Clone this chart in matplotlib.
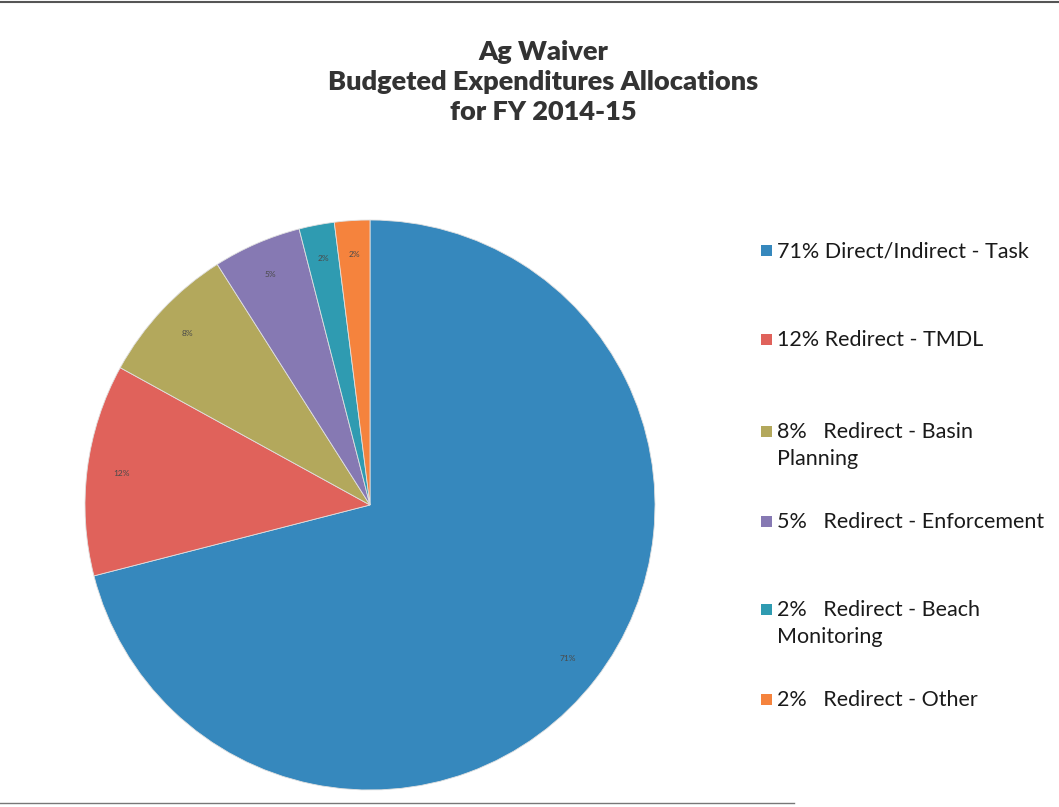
import matplotlib.pyplot as plt
from matplotlib.patches import Rectangle

# budget shares, clockwise from 12 o'clock
shares = [71, 12, 8, 5, 2, 2]
legend_text = [
    "Direct/Indirect - Task",
    "Redirect - TMDL",
    "  Redirect - Basin\nPlanning",
    "  Redirect - Enforcement",
    "  Redirect - Beach\nMonitoring",
    "  Redirect - Other",
]
colors = ["#3688bd", "#e0625b", "#b3a85c", "#8679b3", "#2f9bb1", "#f5833d"]
legend_y = [251, 340, 432, 522, 610, 700]

W, H = 1059, 807
fig = plt.figure(figsize=(W / 100, H / 100), dpi=100)
fig.patch.set_facecolor("white")
font = ["Lato", "DejaVu Sans"]

ax = fig.add_axes([85 / W, 1 - 790 / H, 570 / W, 570 / H])
wedges, texts = ax.pie(
    shares, colors=colors, startangle=90, counterclock=False,
    labels=[f"{s}%" for s in shares], labeldistance=0.88,
    wedgeprops=dict(linewidth=0.6, edgecolor="#e0e0e0"),
    textprops=dict(fontsize=6, color="#4a4a4a", ha="center", va="center", family=font),
)
ax.set_aspect("auto")
ax.set_xlim(-1, 1)
ax.set_ylim(-1, 1)

# title
fig.text(543 / W, 1 - 82 / H,
         "Ag Waiver\nBudgeted Expenditures Allocations\nfor FY 2014-15",
         ha="center", va="center", fontsize=19.5, fontweight="heavy",
         color="#333333", family=font, linespacing=1.3)

# legend entries drawn by hand
for s, txt, c, y in zip(shares, legend_text, colors, legend_y):
    fig.patches.append(Rectangle((761 / W, 1 - (y + 5) / H), 11 / W, 11 / H,
                                 transform=fig.transFigure, facecolor=c,
                                 edgecolor="none"))
    fig.text(777 / W, 1 - (y - 10) / H, f"{s}% {txt}", ha="left", va="top",
             fontsize=15.5, color="#1a1a1a", family=font, linespacing=1.45,
             transform=fig.transFigure)

# frame lines along the page edges
fig.add_artist(plt.Line2D([0, 1], [1 - 2 / H, 1 - 2 / H], color="#555555", lw=1.5))
fig.add_artist(plt.Line2D([0, 0.75], [1 - 803 / H, 1 - 803 / H], color="#777777", lw=1))

fig.savefig("out.png", dpi=100)
